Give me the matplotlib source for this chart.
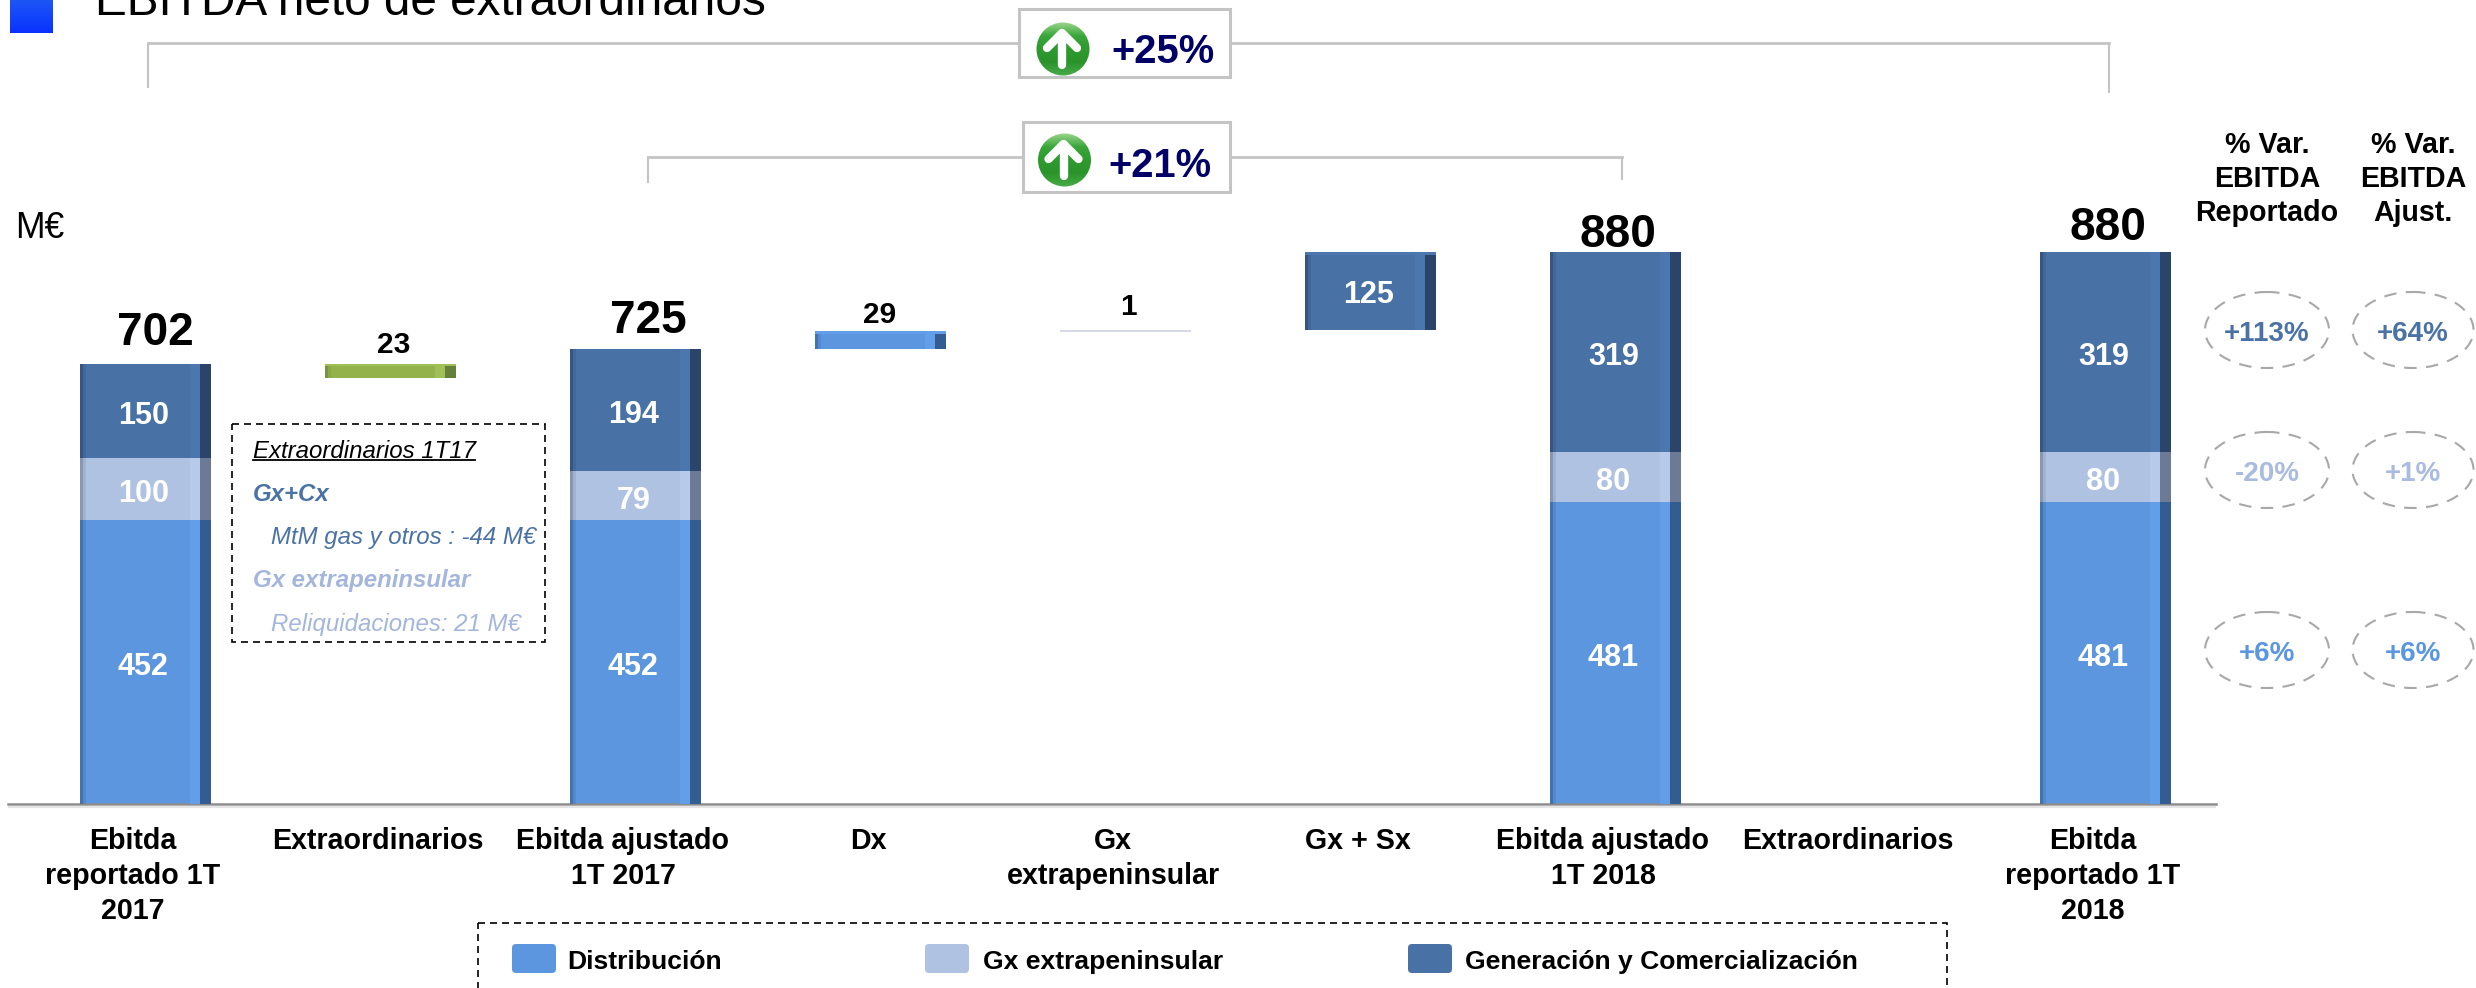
import numpy as np
import matplotlib
matplotlib.use("Agg")
import matplotlib.pyplot as plt
from matplotlib.patches import Rectangle, Ellipse, Circle, FancyBboxPatch
from matplotlib.colors import LinearSegmentedColormap

plt.rcParams['font.family'] = ['Liberation Sans', 'DejaVu Sans']

# ---- data ----
categories = ["Ebitda\nreportado 1T\n2017", "Extraordinarios", "Ebitda ajustado\n1T 2017", "Dx",
              "Gx\nextrapeninsular", "Gx + Sx", "Ebitda ajustado\n1T 2018", "Extraordinarios",
              "Ebitda\nreportado 1T\n2018"]
distribucion = [452, 0, 452, 0, 0, 0, 481, 0, 481]
gx_extrapen = [100, 0, 79, 0, 0, 0, 80, 0, 80]
generacion = [150, 0, 194, 0, 0, 0, 319, 0, 319]
totals = [702, None, 725, None, None, None, 880, None, 880]
bridge_base = [0, 679, 0, 725, 754, 755, 0, 0, 0]
bridge_vals = [0, 23, 0, 29, 1, 125, 0, 0, 0]
var_reportado = ["+113%", "-20%", "+6%"]
var_ajustado = ["+64%", "+1%", "+6%"]
legend_labels = ["Distribución", "Gx extrapeninsular", "Generación y Comercialización"]
growth_labels = ["+25%", "+21%"]

# ---- styles ----
W, H = 2476, 988
PX = 1 / 245.0
BAR_W = 131 * PX
C_DIST = ("#5b96df", "#335c90", "#639fe8")
C_GX = ("#b0c2e2", "#6c7a95", "#b8caea")
C_GEN = ("#4871a6", "#2b4469", "#4c77ae")
C_GREEN = ("#94b24c", "#64803a", "#9fc057")
C_THIN = ("#d5dae6", "#d5dae6", "#d5dae6")
BRIDGE_COLORS = [None, C_GREEN, None, C_DIST, C_THIN, C_GEN, None, None, None]
TEXT_GEN, TEXT_GX, TEXT_DIST = "#4a72a5", "#a9bbe0", "#5b96e0"
NAVY = "#000066"
GREY = "#c4c4c4"

fig = plt.figure(figsize=(W / 100, H / 100), dpi=100, facecolor="white")
x0, x1, y_base, y_top = 8, 2216, 804, 252
ax = fig.add_axes([x0 / W, 1 - y_base / H, (x1 - x0) / W, (y_base - y_top) / H])
ax.set_xlim((x0 - 145.5) * PX, (x1 - 145.5) * PX)
ax.set_ylim(0, 880)
for s in ("top", "left", "right"):
    ax.spines[s].set_visible(False)
ax.spines["bottom"].set_color("#8c8c8c")
ax.spines["bottom"].set_linewidth(1.8)
ax.set_yticks([])
ax.set_xticks(np.arange(len(categories)) - 12.5 * PX)
ax.set_xticklabels(categories, fontsize=20.6, fontweight="bold", linespacing=1.32, color="black")
ax.tick_params(axis="x", length=0, pad=16.5)


def shaded_bar(i, bottom, height, cols, floating=False):
    left = i - BAR_W / 2
    ax.bar(i, height, BAR_W, bottom=bottom, color=cols[0], linewidth=0, zorder=2)
    ax.bar(left + 1.5 * PX, height, 3 * PX, bottom=bottom, color=cols[1], alpha=.6, linewidth=0, zorder=3)
    ax.bar(left + 4.5 * PX, height, 3 * PX, bottom=bottom, color=cols[1], alpha=.2, linewidth=0, zorder=3)
    ax.bar(left + 115 * PX, height, 10 * PX, bottom=bottom, color=cols[2], linewidth=0, zorder=3)
    ax.bar(left + 125.5 * PX, height, 11 * PX, bottom=bottom, color=cols[1], linewidth=0, zorder=3)
    if floating:
        strip = min(height, 6) * .35 + 2
        ax.bar(i, strip, BAR_W, bottom=bottom + height - strip, color=cols[2], linewidth=0, zorder=4)


seg_colors = [C_DIST, C_GX, C_GEN]
series = [distribucion, gx_extrapen, generacion]
for i in range(len(categories)):
    bottom = 0
    for vals, cols in zip(series, seg_colors):
        if vals[i]:
            shaded_bar(i, bottom, vals[i], cols)
            ax.annotate(str(vals[i]), (i, bottom + vals[i] / 2), xytext=(-1.5, -1.2),
                        textcoords="offset points", ha="center", va="center_baseline", fontsize=22,
                        fontweight="bold", color="white", zorder=6)
            bottom += vals[i]
    if bridge_vals[i]:
        cols = BRIDGE_COLORS[i]
        if bridge_vals[i] > 1:
            shaded_bar(i, bridge_base[i], bridge_vals[i], cols, floating=True)
        else:
            ax.bar(i, bridge_vals[i] * 3, BAR_W, bottom=bridge_base[i] - 1, color=cols[0], linewidth=0)

# value labels above bars (offsets in points)
total_off = {0: (7, 26), 2: (9.5, 24), 6: (2, 16), 8: (1.5, 21)}
for i, t in enumerate(totals):
    if t:
        ax.annotate(str(t), (i, t), xytext=total_off[i], textcoords="offset points", ha="center",
                    va="center_baseline", fontsize=33, fontweight="bold", color="black")
bridge_off = {1: (2, 15.5), 3: (-1, 13.5), 4: (2, 19)}
for i, v in enumerate(bridge_vals):
    if v and i != 5:
        ax.annotate(str(v), (i, bridge_base[i] + v), xytext=bridge_off[i], textcoords="offset points",
                    ha="center", va="center_baseline", fontsize=21.5, fontweight="bold", color="black")
ax.annotate(str(bridge_vals[5]), (5, bridge_base[5] + bridge_vals[5] / 2), xytext=(-1.5, 0),
            textcoords="offset points", ha="center", va="center_baseline", fontsize=22,
            fontweight="bold", color="white", zorder=6)

# ---- overlay in pixel coordinates ----
ov = fig.add_axes([0, 0, 1, 1], zorder=5)
ov.patch.set_alpha(0)
ov.axis("off")

# baseline shadow
ov.plot([x0, x1], [807, 807], color="#e4e4e4", lw=1.6, solid_capstyle="butt")

# title + square
grad = LinearSegmentedColormap.from_list("b", ["#1c56f4", "#0a32ff"])
ov.imshow(np.linspace(0, 1, 64)[:, None], extent=(10, 53, 33, 0), cmap=grad, aspect="auto", zorder=2)
ov.text(95, 15, "EBITDA neto de extraordinarios", fontsize=34.4, color="black", va="baseline", ha="left")
ov.text(15, 224, "M€", fontsize=25.6, color="black", va="center_baseline", ha="left")

# brackets
for xl, xr, yt, yl, yr in [(148, 2109, 43, 88, 93), (648, 1622, 157, 183, 180)]:
    ov.plot([xl, xl], [yt, yl], color=GREY, lw=1.5, solid_capstyle="butt")
    ov.plot([xr, xr], [yt, yr], color=GREY, lw=1.5, solid_capstyle="butt")
    ov.plot([xl, xr], [yt, yt], color=GREY, lw=2.0, solid_capstyle="projecting")

# growth boxes
green = LinearSegmentedColormap.from_list("g", ["#9ad68c", "#3aa63a", "#2f9a2f", "#2a942a", "#49ab49"])
boxes = [(1019, 1230, 9, 77, 1063, 49, 1162.5, 48), (1023, 1230, 122, 192, 1064.5, 160, 1159.5, 162)]
for (bl, br, bt, bb, cx, cy, tx, ty), lab in zip(boxes, growth_labels):
    ov.add_patch(Rectangle((bl, bt), br - bl, bb - bt, fc="white", ec=GREY, lw=2.2, zorder=3))
    im = ov.imshow(np.linspace(0, 1, 64)[:, None], extent=(cx - 27, cx + 27, cy + 27, cy - 27),
                   cmap=green, aspect="auto", zorder=4)
    im.set_clip_path(Circle((cx, cy), 26.5, transform=ov.transData))
    ov.plot([cx - 1, cx - 1], [cy - 15, cy + 16], color="white", lw=6, solid_capstyle="round", zorder=5)
    ov.plot([cx - 16, cx - 1, cx + 14], [cy - 1, cy - 16, cy - 1], color="white", lw=6,
            solid_capstyle="round", solid_joinstyle="round", zorder=5)
    ov.text(tx, ty, lab, fontsize=28.7, fontweight="bold", color=NAVY, ha="center",
            va="center_baseline", zorder=5)

# note box
DASH = (0, (4.2, 3))
ov.add_patch(Rectangle((232, 424), 313, 218, fc="none", ec="black", lw=1.2, ls=DASH, zorder=3))
ov.text(253, 449, "Extraordinarios 1T17", fontsize=17.3, style="italic", color="black", va="center_baseline")
ov.plot([253, 475], [460, 460], color="black", lw=1.3)
ov.text(253, 492, "Gx+Cx", fontsize=17.3, style="italic", fontweight="bold", color=TEXT_GEN, va="center_baseline")
ov.text(271, 535, "MtM gas y otros : -44 M€", fontsize=17.3, style="italic", color=TEXT_GEN, va="center_baseline")
ov.text(253, 578, "Gx extrapeninsular", fontsize=17.3, style="italic", fontweight="bold", color="#a4b6dc",
        va="center_baseline")
ov.text(271, 622, "Reliquidaciones: 21 M€", fontsize=17.3, style="italic", color="#a4b6dc", va="center_baseline")

# legend
ov.add_patch(Rectangle((478, 923), 1469, 120, fc="none", ec="black", lw=1.2, ls=DASH, zorder=3, clip_on=True))
leg_x = [(512, 567), (925, 983), (1408, 1465)]
for (px_, tx), lab, cols in zip(leg_x, legend_labels, seg_colors):
    ov.add_patch(FancyBboxPatch((px_ + 3, 947), 38, 23, boxstyle="round,pad=3,rounding_size=4",
                                fc=cols[0], ec="none", zorder=3))
    ov.text(tx, 959, lab, fontsize=19.05, fontweight="bold", color="black", va="center_baseline", ha="left")

# right-hand table
ov.text(2267, 131, "% Var.\nEBITDA\nReportado", fontsize=20.6, fontweight="bold", ha="center", va="top",
        linespacing=1.28)
ov.text(2413, 131, "% Var.\nEBITDA\nAjust.", fontsize=20.6, fontweight="bold", ha="center", va="top",
        linespacing=1.28)
rows_y = [330, 470, 650]
row_cols = [TEXT_GEN, TEXT_GX, TEXT_DIST]
for col_x, w, labs in [(2267, 124, var_reportado), (2413, 121, var_ajustado)]:
    for y, lab, c in zip(rows_y, labs, row_cols):
        ov.add_patch(Ellipse((col_x, y), w, 76, fc="none", ec="#a8a8a8", lw=1.5, ls=(0, (6, 4.5)), zorder=3))
        ov.text(col_x, y + 1, lab, fontsize=20, fontweight="bold", color=c, ha="center",
                va="center_baseline", zorder=4)

ov.set_xlim(0, W)
ov.set_ylim(H, 0)
fig.savefig("out.png", dpi=100, facecolor="white")
